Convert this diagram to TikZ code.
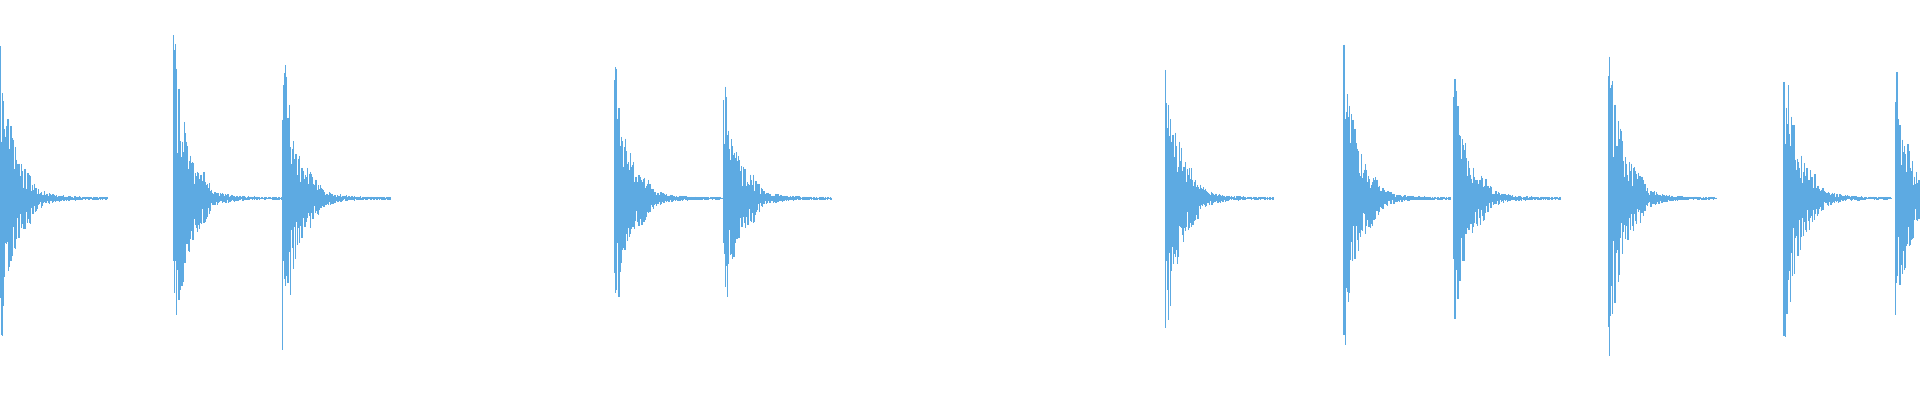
\documentclass[tikz,border=0pt]{standalone}
\definecolor{wave}{RGB}{93,170,226}
\begin{document}
\begin{tikzpicture}[x=0.012245cm,y=-0.012245cm,wv/.style={draw=wave,line width=0.35pt}]
\useasboundingbox (0,0) rectangle (1568,327);
\clip (0,0) rectangle (1568,327);
\pgfmathsetseed{7}
\foreach \x/\A in {0/105,142/112,231/106,502/88,591/80,952/100,1097/114,1187/84,1314/111,1457/110,1548/87}{
  \draw[wv] (\x,162) -- (\x+88,162);
  \foreach \t in {0,0.6,...,88}{
    \pgfmathsetmacro\a{\A*exp(-\t/10)+30*exp(-\t/14)+7*exp(-((\t-24)/5)^2)+1.2}
    \pgfmathsetmacro\u{\a*(0.3+0.7*rnd)}
    \pgfmathsetmacro\d{\a*(0.3+0.7*rnd)}
    \draw[wv] (\x+\t,162-\u) -- (\x+\t,162+\d);
  }
}
\end{tikzpicture}
\end{document}
